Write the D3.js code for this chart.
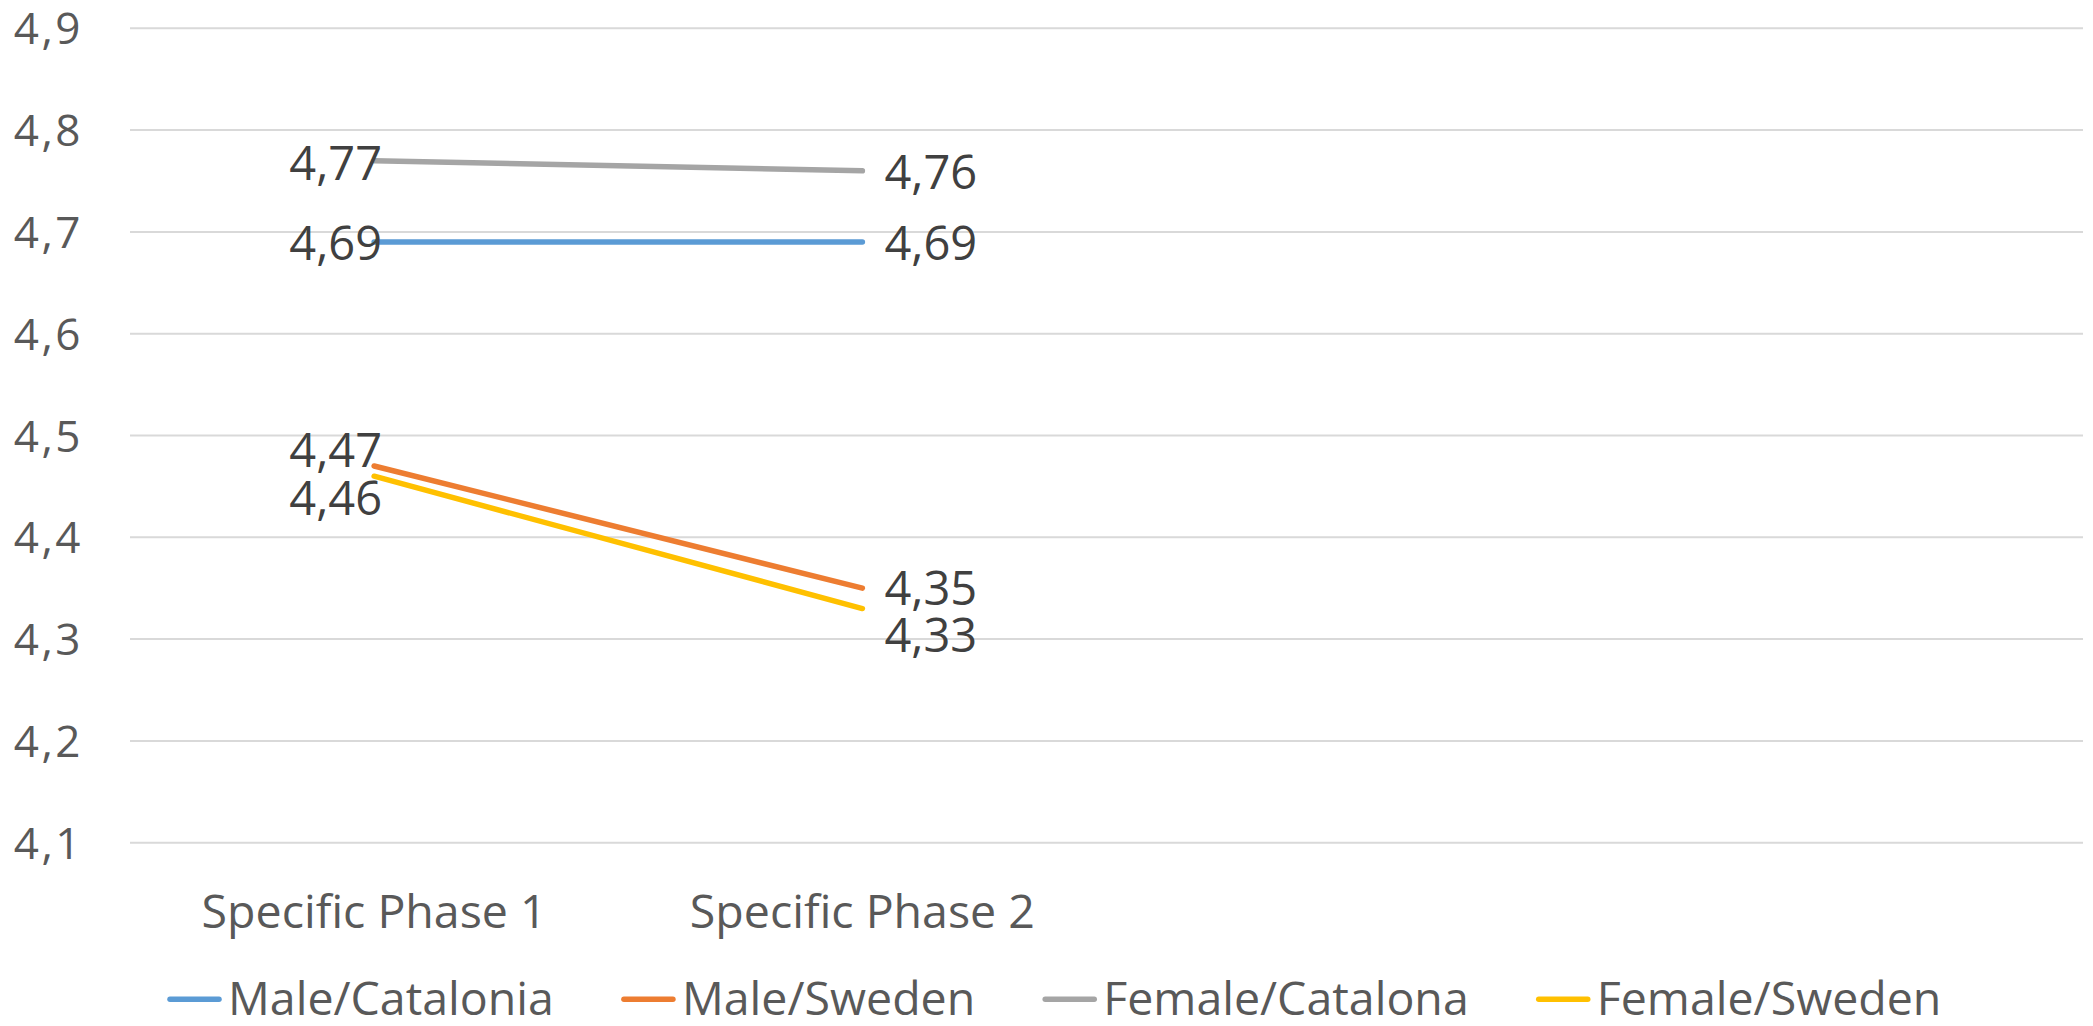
<!DOCTYPE html>
<html>
<head>
<meta charset="utf-8">
<script src="https://cdn.jsdelivr.net/npm/d3@7"></script>
<style>
  html, body { margin: 0; padding: 0; background: #ffffff; }
  svg { display: block; font-family: "Open Sans", "Noto Sans", sans-serif; }
</style>
</head>
<body>
<svg id="chart" width="2093" height="1026"></svg>
<script>
// Category slots on the x axis (the last two are empty slots)
const categories = ["Specific Phase 1", "Specific Phase 2", "", ""];

// Series names and their mean values per phase
const seriesNames = ["Male/Catalonia", "Male/Sweden", "Female/Catalona", "Female/Sweden"];
const maleCatalonia   = [4.69, 4.69];
const maleSweden      = [4.47, 4.35];
const femaleCatalonia = [4.77, 4.76];
const femaleSweden    = [4.46, 4.33];

// Y axis tick values and labels
const yTicks = [4.1, 4.2, 4.3, 4.4, 4.5, 4.6, 4.7, 4.8, 4.9];
const yTickLabels = ["4,1", "4,2", "4,3", "4,4", "4,5", "4,6", "4,7", "4,8", "4,9"];

const seriesValues = [maleCatalonia, maleSweden, femaleCatalonia, femaleSweden];
const colors = ["#5B9BD5", "#ED7D31", "#A5A5A5", "#FFC000"];

// Data label offsets (per series, per point) relative to the point
const labelOffsets = [
  [{side: "left", dy: 18}, {side: "right", dy: 18}],
  [{side: "left", dy: 1},  {side: "right", dy: 17}],
  [{side: "left", dy: 19}, {side: "right", dy: 18}],
  [{side: "left", dy: 39}, {side: "right", dy: 43}]
];

const svg = d3.select("#chart");
const plot = {left: 130, right: 2083, top: 28.3, bottom: 842.7};

const x = d3.scaleBand()
  .domain(d3.range(categories.length))
  .range([plot.left, plot.right]);

const y = d3.scaleLinear()
  .domain([4.1, 4.9])
  .range([plot.bottom, plot.top]);

const fmt = v => d3.format(".2f")(v).replace(".", ",");

// Horizontal gridlines
svg.append("g")
  .selectAll("line")
  .data(yTicks)
  .join("line")
  .attr("x1", plot.left)
  .attr("x2", plot.right)
  .attr("y1", d => y(d))
  .attr("y2", d => y(d))
  .attr("stroke", "#D9D9D9")
  .attr("stroke-width", 2);

// Y axis labels
svg.append("g")
  .selectAll("text")
  .data(yTicks)
  .join("text")
  .attr("x", 83)
  .attr("y", d => y(d) + 16)
  .attr("text-anchor", "end")
  .attr("font-size", 44)
  .attr("letter-spacing", "2.5px")
  .attr("fill", "#595959")
  .text((d, i) => yTickLabels[i]);

// Category labels
svg.append("g")
  .selectAll("text")
  .data(categories)
  .join("text")
  .attr("x", (d, i) => x(i) + x.bandwidth() / 2)
  .attr("y", 928)
  .attr("text-anchor", "middle")
  .attr("font-size", 46.5)
  .attr("fill", "#595959")
  .text(d => d);

// Lines
const line = d3.line()
  .x((d, i) => x(i) + x.bandwidth() / 2)
  .y(d => y(d));

svg.append("g")
  .selectAll("path")
  .data(seriesValues)
  .join("path")
  .attr("d", d => line(d))
  .attr("fill", "none")
  .attr("stroke", (d, i) => colors[i])
  .attr("stroke-width", 5.5)
  .attr("stroke-linecap", "round");

// Data labels
const labelG = svg.append("g");
seriesValues.forEach((vals, s) => {
  vals.forEach((v, i) => {
    const off = labelOffsets[s][i];
    const cx = x(i) + x.bandwidth() / 2;
    labelG.append("text")
      .attr("x", off.side === "left" ? cx + 8 : cx + 22)
      .attr("y", y(v) + off.dy)
      .attr("text-anchor", off.side === "left" ? "end" : "start")
      .attr("font-size", 47)
      .attr("fill", "#404040")
      .text(fmt(v));
  });
});

// Legend
const legend = svg.append("g");
let lx = 168;
const ly = 999.3;
seriesNames.forEach((name, i) => {
  legend.append("line")
    .attr("x1", lx + 2).attr("x2", lx + 51)
    .attr("y1", ly).attr("y2", ly)
    .attr("stroke", colors[i])
    .attr("stroke-width", 5.5)
    .attr("stroke-linecap", "round");
  const t = legend.append("text")
    .attr("x", lx + 60)
    .attr("y", 1015)
    .attr("font-size", 46.5)
    .attr("fill", "#595959")
    .text(name);
  lx = lx + 60 + t.node().getComputedTextLength() + 68;
});
</script>
</body>
</html>
